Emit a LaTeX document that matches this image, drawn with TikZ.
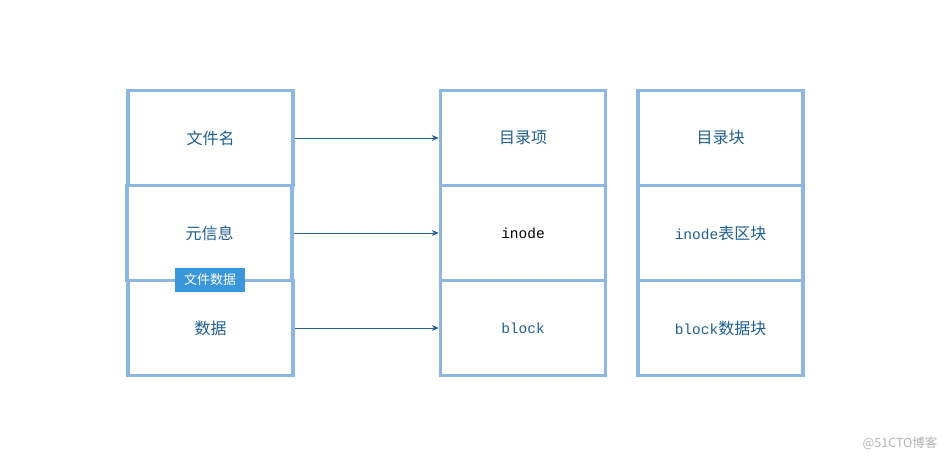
\documentclass[tikz,border=0pt]{standalone}
\usepackage{fontspec}
\setmainfont{Noto Sans CJK SC}
\newfontfamily\cjk{Noto Sans CJK SC}
\newfontfamily\monof{Liberation Mono}
\usetikzlibrary{arrows.meta}
\definecolor{boxline}{HTML}{8DB6E2}
\definecolor{txtblue}{HTML}{1F5F8F}
\definecolor{arrowblue}{HTML}{2A6496}
\definecolor{tagblue}{HTML}{3A96DB}
\begin{document}
\begin{tikzpicture}[x=1pt,y=-1pt,
  cell/.style={draw=boxline,line width=3.5pt,minimum width=165pt,minimum height=95pt,inner sep=0pt,text=txtblue,font=\cjk\fontsize{16}{18}\selectfont},
  monotext/.style={font=\monof\fontsize{14.5}{17}\selectfont},
  conn/.style={draw=arrowblue,line width=0.8pt,-{Stealth[length=7pt,width=6pt]}},
  tag/.style={fill=tagblue,text=white,minimum width=70pt,minimum height=24pt,inner sep=0pt,font=\cjk\fontsize{13}{15}\selectfont}
]
\useasboundingbox (0,0) rectangle (951,461);
% left column
\node[cell] (a1) at (210.5,138) {文件名};
\node[cell] (a2) at (209.5,233) {元信息};
\node[cell] (a3) at (210.5,328) {数据};
% middle column
\node[cell] (b1) at (523,138) {目录项};
\node[cell,monotext,text=black] (b2) at (523,233) {inode};
\node[cell,monotext] (b3) at (523,328) {block};
% right column
\node[cell] (c1) at (720.5,138) {目录块};
\node[cell] (c2) at (720.5,233) {{\monof\fontsize{14.5}{17}\selectfont inode}表区块};
\node[cell] (c3) at (720.5,328) {{\monof\fontsize{14.5}{17}\selectfont block}数据块};
% tag
\node[tag] (t) at (210,280) {文件数据};
% connectors
\draw[conn] (a1.east) -- (b1.west);
\draw[conn] (a2.east) -- (b2.west);
\draw[conn] (a3.east) -- (b3.west);
% watermark
\node[text=black!30,font=\cjk\fontsize{12.5}{14}\selectfont,anchor=east] (w) at (941,443) {@51CTO博客};
\end{tikzpicture}
\end{document}
